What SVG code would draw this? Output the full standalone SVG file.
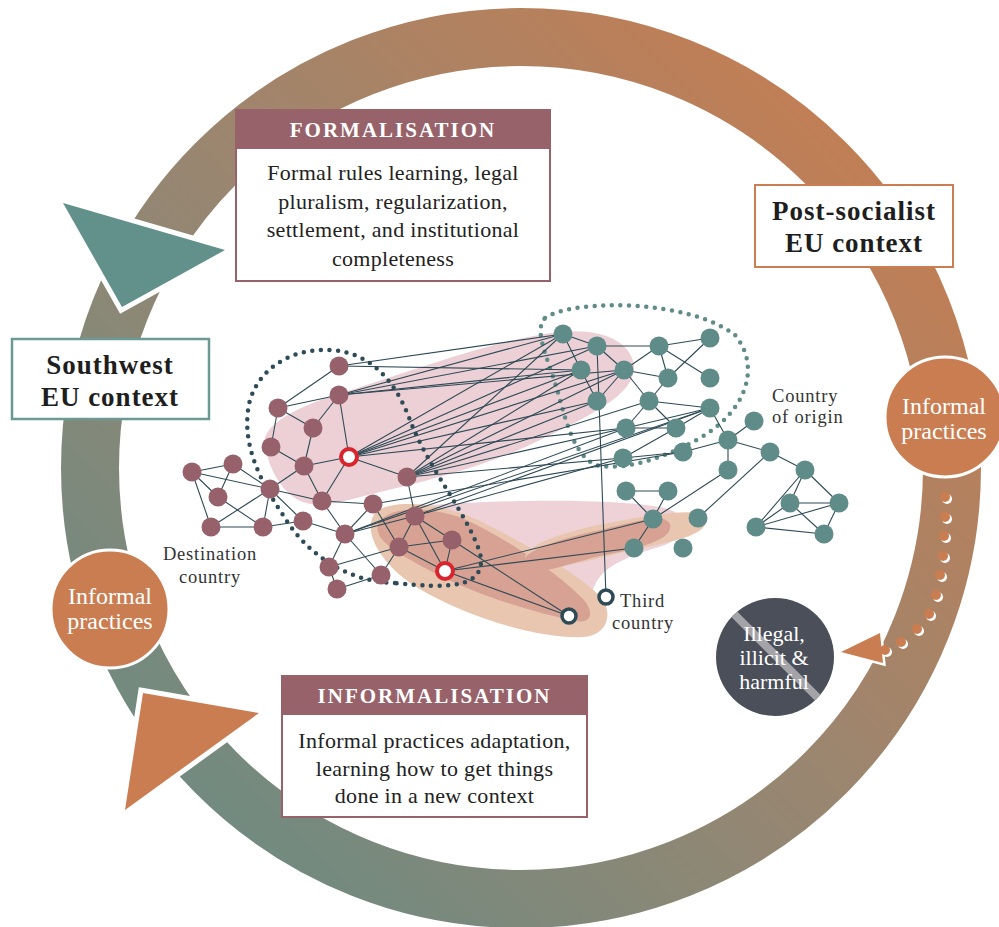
<svg xmlns="http://www.w3.org/2000/svg" width="999" height="927" viewBox="0 0 999 927">
<defs>
<linearGradient id="ringGrad" gradientUnits="userSpaceOnUse" x1="900" y1="90" x2="130" y2="850">
<stop offset="0" stop-color="#c77d51"/>
<stop offset="0.5" stop-color="#9a8670"/>
<stop offset="1" stop-color="#6a8b83"/>
</linearGradient>
<clipPath id="illClip"><circle cx="775" cy="657" r="59"/></clipPath>
<style>
.edge{stroke:#2e4a56;stroke-width:1.1;fill:none}
.mv{fill:#96616a}
.tl{fill:#5f8b89}
.hdr{fill:#97626a}
.hdrtxt{font-family:"Liberation Serif",serif;font-size:21px;font-weight:bold;fill:#ffffff;letter-spacing:2px}
.body{font-family:"Liberation Serif",serif;font-size:22px;fill:#222222;letter-spacing:0.3px}
.ctx{font-family:"Liberation Serif",serif;font-size:27px;font-weight:bold;fill:#1e1e1e}
.ip{fill:#cb7d52;stroke:#ffffff;stroke-width:3}
.iptxt{font-family:"Liberation Serif",serif;font-size:24px;fill:#ffffff}
.illtxt{font-family:"Liberation Serif",serif;font-size:22px;fill:#ffffff}
.lbl{font-family:"Liberation Serif",serif;font-size:18.5px;fill:#333333;letter-spacing:0.8px}
.dotd{fill:none;stroke:#2f4b57;stroke-width:4.5;stroke-linecap:round;stroke-dasharray:0 8.6}
.dott{fill:none;stroke:#5f8b89;stroke-width:4.5;stroke-linecap:round;stroke-dasharray:0 8.6}
</style>
</defs>
<rect width="999" height="927" fill="#ffffff"/>

<g id="cycle-ring">
<circle cx="521" cy="468" r="431" fill="none" stroke="url(#ringGrad)" stroke-width="58"/>
</g>

<g id="arrow-formalisation">
<polygon points="63,203 225,250 122,307" fill="#62908b" stroke="#ffffff" stroke-width="10" stroke-linejoin="miter" paint-order="stroke"/>
</g>
<g id="arrow-informalisation">
<polygon points="143,693 259,713 125,810" fill="#cb7d52" stroke="#ffffff" stroke-width="10" stroke-linejoin="miter" paint-order="stroke"/>
</g>

<g id="dotted-illegal-arrow">
<polygon points="841,652 880,633 883,663" fill="#cb7d52" stroke="#ffffff" stroke-width="5" paint-order="stroke"/>
<g fill="#ffffff">
<circle cx="947" cy="499" r="5"/><circle cx="947" cy="519" r="5"/><circle cx="946" cy="538" r="5"/><circle cx="945" cy="558" r="5"/><circle cx="942" cy="577" r="5"/><circle cx="938" cy="597" r="5"/><circle cx="931" cy="616" r="5"/><circle cx="919" cy="631" r="5"/><circle cx="903" cy="644" r="5"/><circle cx="887" cy="652" r="5"/>
</g>
<g fill="#cb7d52">
<circle cx="945" cy="497" r="5"/><circle cx="945" cy="517" r="5"/><circle cx="944" cy="536" r="5"/><circle cx="943" cy="556" r="5"/><circle cx="940" cy="575" r="5"/><circle cx="936" cy="595" r="5"/><circle cx="929" cy="614" r="5"/><circle cx="917" cy="629" r="5"/><circle cx="901" cy="642" r="5"/><circle cx="885" cy="650" r="5"/>
</g>
</g>

<g id="blobs">
<path d="M 265,445 C 260,425 300,405 345,392 C 420,368 500,338 560,332 C 600,328 630,340 634,365 C 636,395 590,415 540,440 C 490,465 430,480 380,492 C 340,502 318,510 298,500 C 278,488 268,465 265,445 Z" fill="#ecd0d5"/>
<path d="M 430,505 C 520,499 620,499 665,508 C 692,516 690,536 662,546 C 628,556 603,566 595,585 C 588,604 560,602 540,590 C 500,565 455,535 430,505 Z" fill="#eed2d7"/>
<path d="M 376,512 C 392,499 440,502 480,521 C 530,546 578,574 600,596 C 614,612 608,636 583,637 C 540,639 468,618 418,588 C 382,566 360,530 376,512 Z" fill="#e9c6b0"/>
<path d="M 379,522 C 389,507 425,505 462,518 C 510,540 560,575 584,600 C 594,612 592,624 576,621 C 530,612 468,592 425,568 C 395,552 371,538 379,522 Z" fill="#d7a293"/>
<path d="M 526,562 C 518,546 565,530 625,520 C 665,513 700,508 706,518 C 709,533 682,540 642,548 C 592,558 540,578 526,562 Z" fill="#e9c6b0"/>
<path d="M 528,568 C 512,556 545,542 600,530 C 638,521 664,512 670,524 C 674,540 640,548 600,556 C 562,565 540,576 528,568 Z" fill="#d7a293"/>
</g>

<g id="country-outlines">
<path class="dotd" d="M 395,583 C 345,582 305,552 283,515 C 258,478 240,440 250,400 C 262,362 300,348 330,350 C 370,352 395,380 410,420 C 428,468 468,515 480,553 C 488,590 445,588 395,583 Z"/>
<path class="dott" d="M 545,318 C 575,298 690,300 735,335 C 762,368 745,412 700,438 C 668,456 630,470 600,466 C 574,460 566,420 556,386 C 546,354 534,330 545,318 Z"/>
</g>

<g id="connectors" class="edge">
<line x1="339" y1="366" x2="278" y2="408"/>
<line x1="339" y1="395" x2="278" y2="408"/>
<line x1="339" y1="395" x2="313" y2="428"/>
<line x1="339" y1="395" x2="349" y2="457"/>
<line x1="278" y1="408" x2="313" y2="428"/>
<line x1="278" y1="408" x2="271" y2="447"/>
<line x1="313" y1="428" x2="304" y2="466"/>
<line x1="271" y1="447" x2="304" y2="466"/>
<line x1="304" y1="466" x2="349" y2="457"/>
<line x1="304" y1="466" x2="270" y2="489"/>
<line x1="304" y1="466" x2="322" y2="501"/>
<line x1="349" y1="457" x2="322" y2="501"/>
<line x1="349" y1="457" x2="407" y2="477"/>
<line x1="192" y1="472" x2="233" y2="464"/>
<line x1="192" y1="472" x2="211" y2="527"/>
<line x1="192" y1="472" x2="270" y2="489"/>
<line x1="192" y1="472" x2="218" y2="497"/>
<line x1="233" y1="464" x2="218" y2="497"/>
<line x1="233" y1="464" x2="270" y2="489"/>
<line x1="218" y1="497" x2="263" y2="527"/>
<line x1="211" y1="527" x2="270" y2="489"/>
<line x1="211" y1="527" x2="263" y2="527"/>
<line x1="263" y1="527" x2="270" y2="489"/>
<line x1="263" y1="527" x2="303" y2="521"/>
<line x1="270" y1="489" x2="322" y2="501"/>
<line x1="270" y1="489" x2="303" y2="521"/>
<line x1="322" y1="501" x2="373" y2="504"/>
<line x1="322" y1="501" x2="345" y2="534"/>
<line x1="303" y1="521" x2="345" y2="534"/>
<line x1="373" y1="504" x2="345" y2="534"/>
<line x1="373" y1="504" x2="399" y2="547"/>
<line x1="407" y1="477" x2="415" y2="516"/>
<line x1="345" y1="534" x2="415" y2="516"/>
<line x1="345" y1="534" x2="329" y2="567"/>
<line x1="345" y1="534" x2="381" y2="575"/>
<line x1="329" y1="567" x2="399" y2="547"/>
<line x1="329" y1="567" x2="337" y2="589"/>
<line x1="337" y1="589" x2="381" y2="575"/>
<line x1="381" y1="575" x2="399" y2="547"/>
<line x1="415" y1="516" x2="399" y2="547"/>
<line x1="415" y1="516" x2="452" y2="540"/>
<line x1="415" y1="516" x2="445" y2="571"/>
<line x1="399" y1="547" x2="452" y2="540"/>
<line x1="399" y1="547" x2="445" y2="571"/>
<line x1="452" y1="540" x2="445" y2="571"/>
<line x1="339" y1="366" x2="563" y2="334"/>
<line x1="339" y1="366" x2="581" y2="370"/>
<line x1="339" y1="395" x2="563" y2="334"/>
<line x1="339" y1="395" x2="581" y2="370"/>
<line x1="339" y1="395" x2="597" y2="346"/>
<line x1="339" y1="395" x2="624" y2="370"/>
<line x1="349" y1="457" x2="563" y2="334"/>
<line x1="349" y1="457" x2="597" y2="346"/>
<line x1="349" y1="457" x2="581" y2="370"/>
<line x1="349" y1="457" x2="624" y2="370"/>
<line x1="349" y1="457" x2="597" y2="401"/>
<line x1="349" y1="457" x2="626" y2="428"/>
<line x1="407" y1="477" x2="563" y2="334"/>
<line x1="407" y1="477" x2="581" y2="370"/>
<line x1="407" y1="477" x2="624" y2="370"/>
<line x1="407" y1="477" x2="597" y2="401"/>
<line x1="407" y1="477" x2="649" y2="401"/>
<line x1="407" y1="477" x2="626" y2="428"/>
<line x1="407" y1="477" x2="623" y2="458"/>
<line x1="415" y1="516" x2="710" y2="408"/>
<line x1="415" y1="516" x2="623" y2="458"/>
<line x1="345" y1="534" x2="710" y2="408"/>
<line x1="345" y1="534" x2="626" y2="428"/>
<line x1="373" y1="504" x2="683" y2="452"/>
<line x1="445" y1="571" x2="653" y2="519"/>
<line x1="445" y1="571" x2="634" y2="548"/>
<line x1="445" y1="571" x2="569" y2="616"/>
<line x1="452" y1="540" x2="569" y2="616"/>
<line x1="597" y1="346" x2="606" y2="597"/>
<line x1="563" y1="334" x2="597" y2="346"/>
<line x1="563" y1="334" x2="581" y2="370"/>
<line x1="597" y1="346" x2="624" y2="370"/>
<line x1="597" y1="346" x2="659" y2="346"/>
<line x1="581" y1="370" x2="597" y2="401"/>
<line x1="624" y1="370" x2="597" y2="401"/>
<line x1="624" y1="370" x2="659" y2="346"/>
<line x1="624" y1="370" x2="668" y2="378"/>
<line x1="624" y1="370" x2="649" y2="401"/>
<line x1="659" y1="346" x2="710" y2="338"/>
<line x1="659" y1="346" x2="668" y2="378"/>
<line x1="659" y1="346" x2="710" y2="378"/>
<line x1="710" y1="338" x2="668" y2="378"/>
<line x1="668" y1="378" x2="649" y2="401"/>
<line x1="649" y1="401" x2="710" y2="408"/>
<line x1="649" y1="401" x2="676" y2="428"/>
<line x1="649" y1="401" x2="626" y2="428"/>
<line x1="626" y1="428" x2="676" y2="428"/>
<line x1="626" y1="428" x2="710" y2="408"/>
<line x1="710" y1="408" x2="728" y2="440"/>
<line x1="710" y1="408" x2="676" y2="428"/>
<line x1="754" y1="421" x2="728" y2="440"/>
<line x1="676" y1="428" x2="623" y2="458"/>
<line x1="623" y1="458" x2="683" y2="452"/>
<line x1="683" y1="452" x2="728" y2="440"/>
<line x1="728" y1="440" x2="728" y2="470"/>
<line x1="728" y1="440" x2="770" y2="452"/>
<line x1="770" y1="452" x2="805" y2="470"/>
<line x1="770" y1="452" x2="698" y2="518"/>
<line x1="728" y1="470" x2="653" y2="519"/>
<line x1="626" y1="491" x2="668" y2="491"/>
<line x1="626" y1="491" x2="653" y2="519"/>
<line x1="668" y1="491" x2="653" y2="519"/>
<line x1="653" y1="519" x2="634" y2="548"/>
<line x1="805" y1="470" x2="790" y2="503"/>
<line x1="805" y1="470" x2="756" y2="527"/>
<line x1="805" y1="470" x2="839" y2="503"/>
<line x1="790" y1="503" x2="839" y2="503"/>
<line x1="790" y1="503" x2="756" y2="527"/>
<line x1="790" y1="503" x2="824" y2="534"/>
<line x1="839" y1="503" x2="756" y2="527"/>
<line x1="839" y1="503" x2="824" y2="534"/>
<line x1="756" y1="527" x2="824" y2="534"/>
</g>

<g id="destination-nodes" class="mv">
<circle id="d-A" cx="339" cy="366" r="9.5"/>
<circle id="d-B" cx="339" cy="395" r="9.5"/>
<circle id="d-C" cx="278" cy="408" r="9.5"/>
<circle id="d-D" cx="313" cy="428" r="9.5"/>
<circle id="d-E" cx="271" cy="447" r="9.5"/>
<circle id="d-G" cx="304" cy="466" r="9.5"/>
<circle id="d-H" cx="192" cy="472" r="9.5"/>
<circle id="d-I" cx="233" cy="464" r="9.5"/>
<circle id="d-J" cx="270" cy="489" r="9.5"/>
<circle id="d-K" cx="218" cy="497" r="9.5"/>
<circle id="d-L" cx="322" cy="501" r="9.5"/>
<circle id="d-M" cx="407" cy="477" r="9.5"/>
<circle id="d-N" cx="373" cy="504" r="9.5"/>
<circle id="d-O" cx="211" cy="527" r="9.5"/>
<circle id="d-P" cx="263" cy="527" r="9.5"/>
<circle id="d-Q" cx="303" cy="521" r="9.5"/>
<circle id="d-R" cx="345" cy="534" r="9.5"/>
<circle id="d-S" cx="415" cy="516" r="9.5"/>
<circle id="d-T" cx="399" cy="547" r="9.5"/>
<circle id="d-U" cx="452" cy="540" r="9.5"/>
<circle id="d-W" cx="329" cy="567" r="9.5"/>
<circle id="d-X" cx="381" cy="575" r="9.5"/>
<circle id="d-Y" cx="337" cy="589" r="9.5"/>
</g>
<g id="brokers" fill="#ffffff" stroke="#d9262e" stroke-width="4">
<circle id="broker-1" cx="349" cy="457" r="8"/>
<circle id="broker-2" cx="445" cy="571" r="8"/>
</g>
<g id="third-country-nodes" fill="#ffffff" stroke="#2e4a56" stroke-width="3.5">
<circle id="third-1" cx="569" cy="616" r="7"/>
<circle id="third-2" cx="606" cy="597" r="7"/>
</g>
<g id="origin-nodes" class="tl">
<circle id="o-1" cx="563" cy="334" r="9.5"/>
<circle id="o-2" cx="597" cy="346" r="9.5"/>
<circle id="o-3" cx="581" cy="370" r="9.5"/>
<circle id="o-4" cx="624" cy="370" r="9.5"/>
<circle id="o-5" cx="597" cy="401" r="9.5"/>
<circle id="o-6" cx="659" cy="346" r="9.5"/>
<circle id="o-7" cx="710" cy="338" r="9.5"/>
<circle id="o-8" cx="668" cy="378" r="9.5"/>
<circle id="o-9" cx="710" cy="378" r="9.5"/>
<circle id="o-10" cx="649" cy="401" r="9.5"/>
<circle id="o-11" cx="710" cy="408" r="9.5"/>
<circle id="o-12" cx="626" cy="428" r="9.5"/>
<circle id="o-13" cx="676" cy="428" r="9.5"/>
<circle id="o-14" cx="754" cy="421" r="9.5"/>
<circle id="o-15" cx="728" cy="440" r="9.5"/>
<circle id="o-16" cx="683" cy="452" r="9.5"/>
<circle id="o-17" cx="623" cy="458" r="9.5"/>
<circle id="o-18" cx="770" cy="452" r="9.5"/>
<circle id="o-19" cx="728" cy="470" r="9.5"/>
<circle id="o-20" cx="626" cy="491" r="9.5"/>
<circle id="o-21" cx="668" cy="491" r="9.5"/>
<circle id="o-22" cx="653" cy="519" r="9.5"/>
<circle id="o-23" cx="698" cy="518" r="9.5"/>
<circle id="o-24" cx="634" cy="548" r="9.5"/>
<circle id="o-25" cx="683" cy="548" r="9.5"/>
<circle id="o-26" cx="805" cy="470" r="9.5"/>
<circle id="o-27" cx="790" cy="503" r="9.5"/>
<circle id="o-28" cx="839" cy="503" r="9.5"/>
<circle id="o-29" cx="756" cy="527" r="9.5"/>
<circle id="o-30" cx="824" cy="534" r="9.5"/>
</g>

<g id="label-destination" class="lbl" text-anchor="middle">
<text x="210" y="560">Destination</text>
<text x="210" y="583">country</text>
</g>
<g id="label-origin" class="lbl">
<text x="772" y="402">Country</text>
<text x="772" y="423">of origin</text>
</g>
<g id="label-third" class="lbl">
<text x="620" y="607">Third</text>
<text x="612" y="629">country</text>
</g>

<g id="formalisation-box">
<rect x="236" y="148" width="314" height="133" fill="#ffffff" stroke="#97626a" stroke-width="2"/>
<rect x="235" y="109" width="316" height="40" class="hdr"/>
<text x="393" y="137" class="hdrtxt" text-anchor="middle">FORMALISATION</text>
<g class="body" text-anchor="middle">
<text x="393" y="180">Formal rules learning, legal</text>
<text x="393" y="209">pluralism, regularization,</text>
<text x="393" y="237">settlement, and institutional</text>
<text x="393" y="266">completeness</text>
</g>
</g>

<g id="informalisation-box">
<rect x="282" y="714" width="305" height="103" fill="#ffffff" stroke="#97626a" stroke-width="2"/>
<rect x="281" y="675" width="307" height="40" class="hdr"/>
<text x="434.5" y="703" class="hdrtxt" text-anchor="middle">INFORMALISATION</text>
<g class="body" text-anchor="middle">
<text x="434.5" y="748">Informal practices adaptation,</text>
<text x="434.5" y="776">learning how to get things</text>
<text x="434.5" y="803">done in a new context</text>
</g>
</g>

<g id="post-socialist-box">
<rect x="755" y="185" width="198" height="82" fill="#ffffff" stroke="#cc7e53" stroke-width="2"/>
<g class="ctx" text-anchor="middle" letter-spacing="1">
<text x="854" y="220">Post-socialist</text>
<text x="854" y="252">EU context</text>
</g>
</g>

<g id="southwest-box">
<rect x="12" y="339" width="197" height="80" fill="#ffffff" stroke="#6b9a94" stroke-width="2.5"/>
<g class="ctx" text-anchor="middle" letter-spacing="1">
<text x="110" y="374">Southwest</text>
<text x="110" y="406">EU context</text>
</g>
</g>

<g id="informal-practices-right">
<circle cx="945" cy="417" r="60" class="ip"/>
<text x="944" y="414" class="iptxt" text-anchor="middle">Informal</text>
<text x="944" y="439" class="iptxt" text-anchor="middle">practices</text>
</g>
<g id="informal-practices-left">
<circle cx="110" cy="609" r="59" class="ip"/>
<text x="110" y="604" class="iptxt" text-anchor="middle">Informal</text>
<text x="110" y="629" class="iptxt" text-anchor="middle">practices</text>
</g>

<g id="illegal-node">
<circle cx="775" cy="657" r="59" fill="#4a4f5a"/>
<line x1="720" y1="600" x2="832" y2="712" stroke="#a4a4a8" stroke-width="8" clip-path="url(#illClip)"/>
<g class="illtxt" text-anchor="middle">
<text x="774" y="641">Illegal,</text>
<text x="774" y="665">illicit &amp;</text>
<text x="774" y="689">harmful</text>
</g>
</g>
</svg>
